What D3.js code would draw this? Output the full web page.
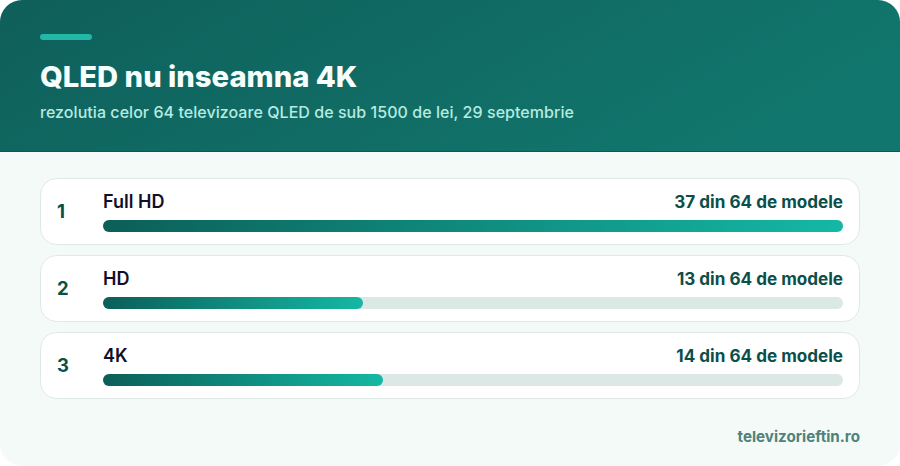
<!DOCTYPE html>
<html lang="ro">

<head>
  <meta charset="UTF-8">
  <title>QLED nu inseamna 4K</title>
  <style>
    html, body { margin: 0; padding: 0; background: #fff; }
    svg { display: block; font-family: Inter, sans-serif; }
  </style>
</head>

<body>
  <svg id="chart" width="900" height="466"></svg>

  <script src="https://cdn.jsdelivr.net/npm/d3@7"></script>
  <script>
    var categories = ['Full HD', 'HD', '4K'];
    var ranks = [1, 2, 3];
    var models = [37, 13, 14];
    var total = 64;
    var title = 'QLED nu inseamna 4K';
    var subtitle = 'rezolutia celor 64 televizoare QLED de sub 1500 de lei, 29 septembrie';
    var source = 'televizorieftin.ro';

    var width = 900, height = 466, headerH = 151;
    var svg = d3.select('#chart');
    var defs = svg.append('defs');

    defs.append('clipPath').attr('id', 'page')
      .append('rect')
      .attr('width', width).attr('height', height).attr('rx', 22);

    var headGrad = defs.append('linearGradient').attr('id', 'head')
      .attr('x1', '0%').attr('y1', '0%').attr('x2', '100%').attr('y2', '30%');
    headGrad.append('stop').attr('offset', '0%').attr('stop-color', '#0f5f5a');
    headGrad.append('stop').attr('offset', '100%').attr('stop-color', '#11766d');

    var page = svg.append('g').attr('clip-path', 'url(#page)');
    page.append('rect').attr('width', width).attr('height', height).attr('fill', '#f4faf8');
    page.append('rect').attr('width', width).attr('height', headerH).attr('fill', 'url(#head)');
    page.append('rect').attr('y', headerH).attr('width', width).attr('height', 1).attr('fill', '#0b5a52');

    /********************* header *********************/
    page.append('rect')
      .attr('x', 40).attr('y', 34).attr('width', 52).attr('height', 6).attr('rx', 3)
      .attr('fill', '#22b8a6');
    page.append('text')
      .attr('x', 40).attr('y', 87)
      .attr('font-size', 29.2).attr('font-weight', 800).attr('fill', '#f6fffd')
      .text(title);
    page.append('text')
      .attr('x', 40).attr('y', 118)
      .attr('font-size', 16).attr('font-weight', 500).attr('letter-spacing', 0.05).attr('fill', '#b5ebe0')
      .text(subtitle);

    /********************* rows *********************/
    var x = d3.scaleLinear().domain([0, d3.max(models)]).range([103, 843]);
    var y = d3.scaleBand().domain(categories).range([178, 399]).paddingInner(10 / 77).paddingOuter(0);

    var rows = page.selectAll('g.row')
      .data(categories)
      .enter()
      .append('g')
      .attr('class', 'row')
      .attr('transform', d => 'translate(0,' + y(d) + ')');

    rows.append('rect')
      .attr('x', 40.5).attr('y', 0.5)
      .attr('width', 819).attr('height', y.bandwidth() - 1).attr('rx', 16)
      .attr('fill', '#fff').attr('stroke', '#dfe8e6');

    rows.append('text')
      .attr('x', 57).attr('y', 40)
      .attr('font-size', 18.5).attr('font-weight', 700).attr('fill', '#0b4f4a')
      .text((d, i) => ranks[i]);

    rows.append('text')
      .attr('x', 103).attr('y', 29.5)
      .attr('font-size', 18).attr('font-weight', 600).attr('fill', '#10102a')
      .text(d => d);

    rows.append('text')
      .attr('x', 843).attr('y', 29.5).attr('text-anchor', 'end')
      .attr('font-size', 17.1).attr('font-weight', 700).attr('fill', '#0b4f4a')
      .text((d, i) => models[i] + ' din ' + total + ' de modele');

    rows.append('rect')
      .attr('x', x(0)).attr('y', 42)
      .attr('width', x.range()[1] - x(0)).attr('height', 12).attr('rx', 6)
      .attr('fill', '#dce8e5');

    // one gradient per bar, it runs over the bar's own length
    categories.forEach(function (c, i) {
      var g = defs.append('linearGradient').attr('id', 'bar' + i)
        .attr('x1', '0%').attr('y1', '0%').attr('x2', '100%').attr('y2', '0%');
      g.append('stop').attr('offset', '0%').attr('stop-color', '#0b5f58');
      g.append('stop').attr('offset', '100%').attr('stop-color', '#14b8a4');
    });

    rows.append('rect')
      .attr('x', x(0)).attr('y', 42)
      .attr('width', (d, i) => x(models[i]) - x(0)).attr('height', 12).attr('rx', 6)
      .attr('fill', (d, i) => 'url(#bar' + i + ')');

    /********************* footer *********************/
    page.append('text')
      .attr('x', 860).attr('y', 442).attr('text-anchor', 'end')
      .attr('font-size', 15.2).attr('font-weight', 700).attr('fill', '#4f827a')
      .text(source);
  </script>
</body>

</html>
